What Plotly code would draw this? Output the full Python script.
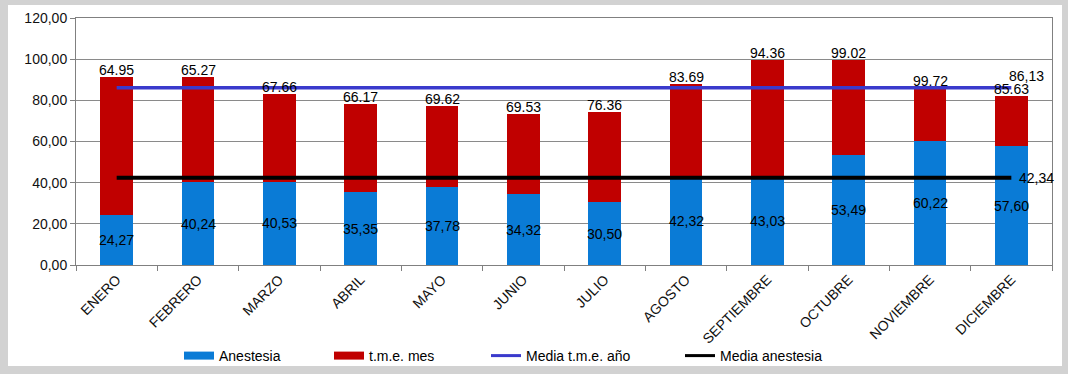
import plotly.graph_objects as go

months = ["ENERO", "FEBRERO", "MARZO", "ABRIL", "MAYO", "JUNIO", "JULIO",
          "AGOSTO", "SEPTIEMBRE", "OCTUBRE", "NOVIEMBRE", "DICIEMBRE"]
anestesia = [24.27, 40.24, 40.53, 35.35, 37.78, 34.32, 30.50, 42.32, 43.03, 53.49, 60.22, 57.60]
# top of the stacked t.m.e. bar
tme_bar_top = [91.1, 91.1, 83.0, 78.2, 77.3, 73.3, 74.1, 87.9, 99.7, 99.7, 85.9, 82.3]
# printed t.m.e. labels
tme_labels = [64.95, 65.27, 67.66, 66.17, 69.62, 69.53, 76.36, 83.69, 94.36, 99.02, 99.72, 85.63]
media_tme = 86.13
media_anest = 42.34

BLUE = "#0a7bd6"
RED = "#c00000"
LINE_BLUE = "#3a3acc"
FONT = "Liberation Sans, Arial, sans-serif"

tme_segment = [t - a for t, a in zip(tme_bar_top, anestesia)]

fig = go.Figure()
fig.add_trace(go.Bar(x=months, y=anestesia, marker=dict(color=BLUE, line=dict(width=0)),
                     width=0.4, showlegend=False, hoverinfo="y"))
fig.add_trace(go.Bar(x=months, y=tme_segment, marker=dict(color=RED, line=dict(width=0)),
                     width=0.4, showlegend=False, hoverinfo="y"))
fig.add_trace(go.Scatter(x=months, y=[media_tme] * len(months), mode="lines",
                         line=dict(color=LINE_BLUE, width=3.5), showlegend=False))
fig.add_trace(go.Scatter(x=months, y=[media_anest] * len(months), mode="lines",
                         line=dict(color="black", width=4), showlegend=False))

# legend entries (each in its own legend to reproduce spacing)
legend_items = [("Anestesia", BLUE, 8, "legend"), ("t.m.e. mes", RED, 8, "legend2"),
                ("Media t.m.e. año", LINE_BLUE, 3, "legend3"), ("Media anestesia", "black", 3, "legend4")]
for name, col, w, lg in legend_items:
    fig.add_trace(go.Scatter(x=[None], y=[None], mode="lines", name=name,
                             line=dict(color=col, width=w), legend=lg, showlegend=True))

annotations = []
for m, a in zip(months, anestesia):
    annotations.append(dict(x=m, y=a / 2, text=f"{a:.2f}".replace(".", ","), showarrow=False,
                            font=dict(family=FONT, size=14, color="black"),
                            xanchor="center", yanchor="middle"))
for m, top, lab in zip(months, tme_bar_top, tme_labels):
    annotations.append(dict(x=m, y=top, text=f"{lab:.2f}", showarrow=False,
                            font=dict(family=FONT, size=14, color="black"),
                            xanchor="center", yanchor="bottom", yshift=-3))
annotations.append(dict(x=months[-1], y=media_tme, text=f"{media_tme:.2f}".replace(".", ","),
                        showarrow=False, font=dict(family=FONT, size=14, color="black"),
                        xanchor="left", yanchor="bottom", xshift=-4, yshift=2))
annotations.append(dict(x=months[-1], y=media_anest, text=f"{media_anest:.2f}".replace(".", ","),
                        showarrow=False, font=dict(family=FONT, size=14, color="black"),
                        xanchor="left", yanchor="middle", xshift=6))

L, R, T, B = 76, 16, 18, 109
W, H = 1068, 374
pw = W - L - R
ph = H - T - B


def px_x(p):
    return (p - L) / pw


def px_y(p):
    return (H - B - p) / ph


leg_common = dict(orientation="h", yanchor="middle", xanchor="left", y=px_y(356),
                  font=dict(family=FONT, size=14, color="black"), bgcolor="rgba(0,0,0,0)",
                  itemwidth=30, tracegroupgap=0)

fig.update_layout(
    width=W, height=H,
    margin=dict(l=L, r=R, t=T, b=B, pad=0, autoexpand=False),
    barmode="stack",
    separators=",.",
    paper_bgcolor="#d2d2d2",
    plot_bgcolor="rgba(0,0,0,0)",
    font=dict(family=FONT, size=14, color="black"),
    annotations=annotations,
    shapes=[dict(type="rect", xref="paper", yref="paper", x0=px_x(8), x1=px_x(1062),
                 y0=px_y(366), y1=px_y(5), fillcolor="white", line=dict(width=0), layer="below")],
    xaxis=dict(type="category", tickangle=-45, tickson="boundaries", ticks="outside", ticklen=5,
               tickcolor="#808080", showline=True, linecolor="#808080", linewidth=1, mirror=True,
               showgrid=False, range=[-0.5, 11.5], automargin=False,
               tickfont=dict(family=FONT, size=14, color="#111")),
    yaxis=dict(range=[0, 120], dtick=20, tickformat=".2f", ticks="outside", ticklen=5,
               tickcolor="#808080", showline=True, linecolor="#808080", linewidth=1, mirror=True,
               showgrid=True, gridcolor="#8a8a8a", gridwidth=1, zeroline=False, automargin=False,
               tickfont=dict(family=FONT, size=14, color="#111")),
    legend=dict(x=px_x(179), **leg_common),
    legend2=dict(x=px_x(329), **leg_common),
    legend3=dict(x=px_x(486), **leg_common),
    legend4=dict(x=px_x(680), **leg_common),
)

fig.write_html("out.html")
